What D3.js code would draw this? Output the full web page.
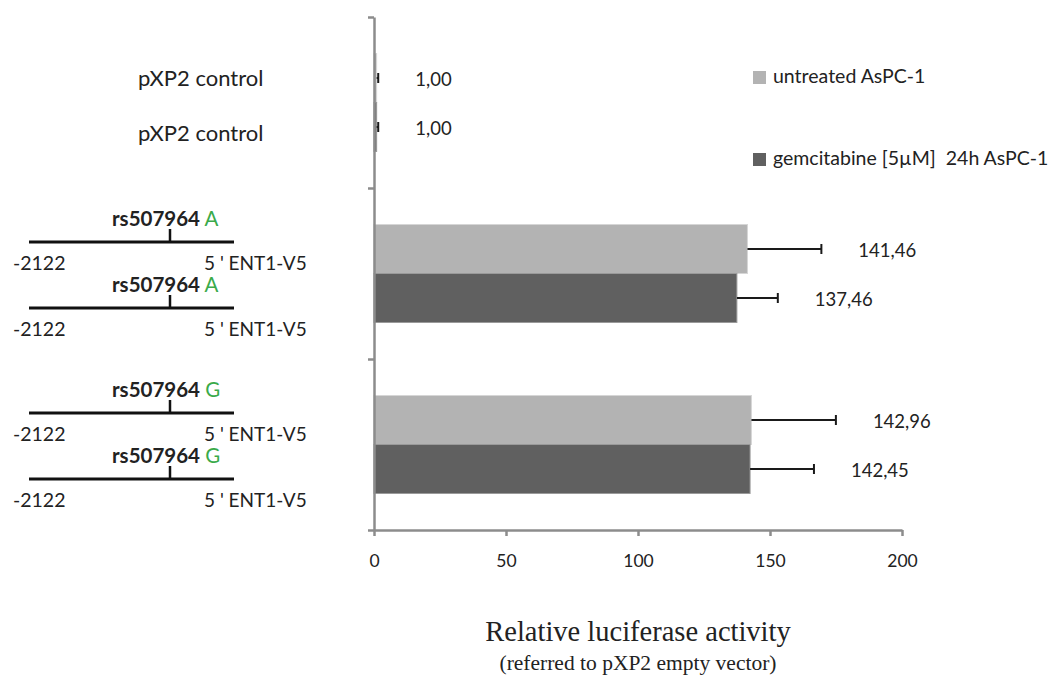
<!DOCTYPE html>
<html>
<head>
<meta charset="utf-8">
<script src="https://cdn.jsdelivr.net/npm/d3@7"></script>
<style>
  body { margin: 0; background: #fff; }
  text { font-family: Lato, "Open Sans", sans-serif; fill: #222; }
</style>
</head>
<body>
<div id="chart"></div>
<script>
// data
const groups = ["pXP2 control", "rs507964 A", "rs507964 G"];
const alleles = [null, "A", "G"];
const series = ["untreated AsPC-1", "gemcitabine [5\u00B5M]  24h AsPC-1"];
const untreatedValues = [1.00, 141.46, 142.96];
const gemcitabineValues = [1.00, 137.46, 142.45];
const untreatedErrors = [0.6, 28.0, 32.0];
const gemcitabineErrors = [0.6, 15.5, 24.2];
const xTicks = [0, 50, 100, 150, 200];
const seriesColors = ["#b3b3b3", "#606060"];

window.onload = init;

function init()
{
    const width = 1049;
    const height = 676;
    const svg = d3.select('#chart').append('svg').attr('width', width).attr('height', height);

    const x = d3.scaleLinear().domain([0, 200]).range([374, 902]);
    const y = d3.scaleBand().domain(groups).range([17, 530]);
    const sub = d3.scaleBand().domain(series).range([0, y.bandwidth()]).paddingOuter(0.745);
    const color = d3.scaleOrdinal().domain(series).range(seriesColors);

    const values = [untreatedValues, gemcitabineValues];
    const errors = [untreatedErrors, gemcitabineErrors];

    let rows = [];
    groups.forEach((g, i) => {
        series.forEach((s, j) => {
            rows.push({group: g, gi: i, series: s, si: j, value: values[j][i], err: errors[j][i]});
        });
    });

    const cy = d => y(d.group) + sub(d.series) + sub.bandwidth() / 2;

    // bars
    svg.append('g').selectAll('rect').data(rows).enter().append('rect')
        .attr('x', x(0))
        .attr('y', d => y(d.group) + sub(d.series))
        .attr('width', d => x(d.value) - x(0))
        .attr('height', sub.bandwidth())
        .attr('fill', d => color(d.series))
        .attr('stroke', d => d.si == 0 ? '#d6d6d6' : '#9a9a9a')
        .attr('stroke-width', 1);

    // error bars
    const eb = svg.append('g').attr('stroke', '#1a1a1a').attr('stroke-width', 2);
    eb.selectAll('line.e').data(rows).enter().append('line')
        .attr('x1', d => x(d.value)).attr('x2', d => x(d.value + d.err))
        .attr('y1', cy).attr('y2', cy);
    eb.selectAll('line.c').data(rows).enter().append('line')
        .attr('x1', d => x(d.value + d.err)).attr('x2', d => x(d.value + d.err))
        .attr('y1', d => cy(d) - 5).attr('y2', d => cy(d) + 5);

    // value labels
    svg.append('g').selectAll('text').data(rows).enter().append('text')
        .attr('x', d => x(d.value + d.err) + 37)
        .attr('y', d => cy(d) + 3)
        .attr('dominant-baseline', 'middle')
        .style('font-size', '18.5px')
        .text(d => d3.format('.2f')(d.value).replace('.', ','));

    // axes
    const xAxis = svg.append('g').attr('transform', 'translate(0,530)')
        .call(d3.axisBottom(x).tickValues(xTicks).tickSize(6).tickSizeOuter(0).tickPadding(19));
    xAxis.selectAll('text').style('font-size', '17.5px').style('font-family', 'Lato, sans-serif').attr('fill', '#222');

    const yLin = d3.scaleLinear().domain([0, groups.length]).range([17, 530]);
    const yAxis = svg.append('g').attr('transform', 'translate(374,0)')
        .call(d3.axisLeft(yLin).ticks(groups.length).tickSize(6).tickSizeOuter(0).tickFormat(''));

    svg.selectAll('.domain, .tick line').attr('stroke', '#8c8c8c').attr('stroke-width', 2.5);

    // left side labels
    const left = svg.append('g');
    rows.forEach(d => {
        if (d.gi == 0) {
            left.append('text')
                .attr('x', 138).attr('y', cy(d) + (d.si == 0 ? 2 : 8))
                .attr('dominant-baseline', 'middle')
                .style('font-size', '22px')
                .text(d.group);
        } else {
            const ly = cy(d) + (d.si == 0 ? -7 : 10);
            left.append('line').attr('x1', 29).attr('x2', 234).attr('y1', ly).attr('y2', ly)
                .attr('stroke', '#111').attr('stroke-width', 3);
            left.append('line').attr('x1', 170).attr('x2', 170).attr('y1', ly - 13).attr('y2', ly)
                .attr('stroke', '#111').attr('stroke-width', 2.5);
            const t = left.append('text').attr('x', 112).attr('y', ly - 21)
                .attr('dominant-baseline', 'middle').style('font-size', '20.5px');
            t.append('tspan').style('font-weight', 'bold').text('rs507964');
            t.append('tspan').attr('fill', '#3aaa4a').style('font-weight', 'normal').text(' ' + alleles[d.gi]);
            left.append('text').attr('x', 13).attr('y', ly + 23)
                .attr('dominant-baseline', 'middle').style('font-size', '19.5px').text('-2122');
            left.append('text').attr('x', 204).attr('y', ly + 23)
                .attr('dominant-baseline', 'middle').style('font-size', '19px').text("5 ' ENT1-V5");
        }
    });

    // legend
    const legY = [78, 160];
    const leg = svg.append('g');
    series.forEach((s, i) => {
        leg.append('rect').attr('x', 753).attr('y', legY[i] - 7).attr('width', 13).attr('height', 13)
            .attr('fill', color(s));
        leg.append('text').attr('x', 773).attr('y', legY[i])
            .attr('dominant-baseline', 'middle')
            .style('font-size', '19.5px').style('white-space', 'pre').attr('xml:space', 'preserve')
            .text(s);
    });

    // axis title
    svg.append('text').attr('x', 638).attr('y', 634)
        .attr('text-anchor', 'middle').attr('dominant-baseline', 'middle')
        .style('font-family', '"Liberation Serif", serif').style('font-size', '28.5px')
        .text('Relative luciferase activity');
    svg.append('text').attr('x', 638).attr('y', 665)
        .attr('text-anchor', 'middle').attr('dominant-baseline', 'middle')
        .style('font-family', '"Liberation Serif", serif').style('font-size', '21.5px')
        .text('(referred to pXP2 empty vector)');
}
</script>
</body>
</html>
